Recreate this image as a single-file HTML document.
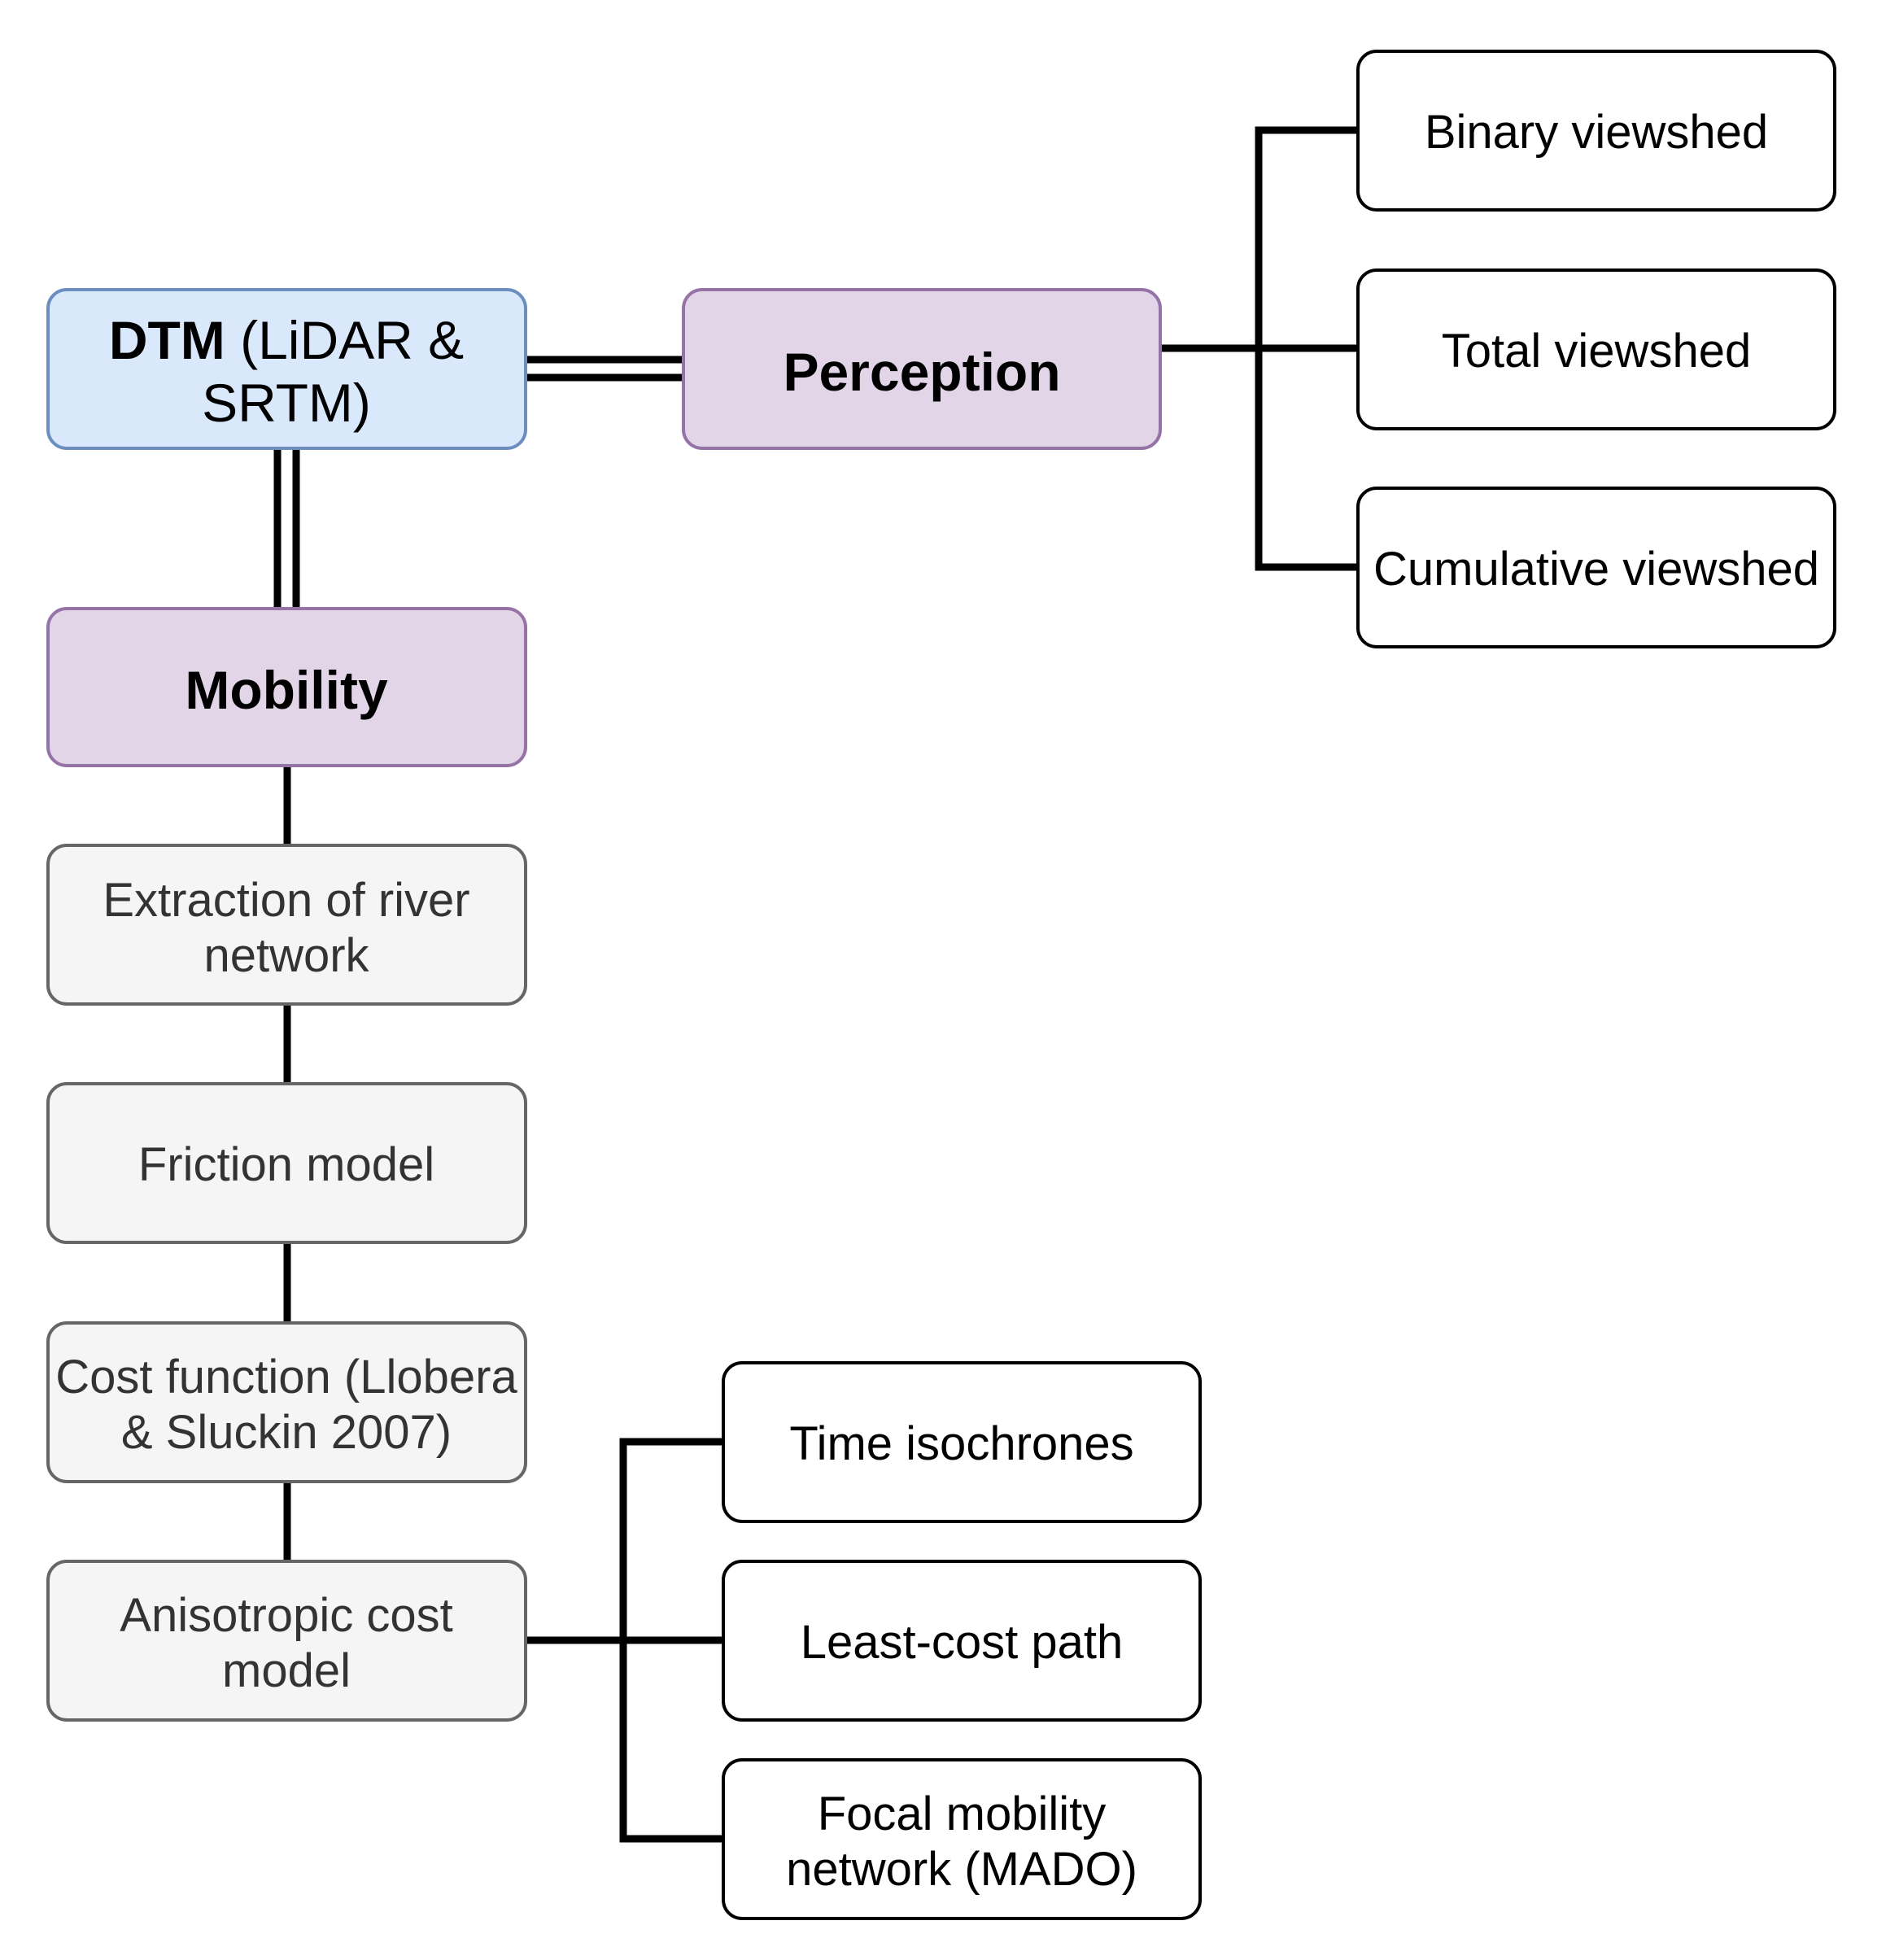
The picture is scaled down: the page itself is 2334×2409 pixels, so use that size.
<!DOCTYPE html>
<html><head><style>html,body{margin:0;padding:0;background:#fff}</style></head><body>
<svg width="2334" height="2404" xmlns="http://www.w3.org/2000/svg" font-family="Liberation Sans, Arial, sans-serif">
<g stroke="#000" stroke-width="9" fill="none">
<line x1="646" y1="442" x2="840" y2="442"/><line x1="646" y1="464" x2="840" y2="464"/>
<line x1="341" y1="551" x2="341" y2="748"/><line x1="364" y1="551" x2="364" y2="748"/>
<line x1="353" y1="941" x2="353" y2="1039"/><line x1="353" y1="1234" x2="353" y2="1332"/>
<line x1="353" y1="1527" x2="353" y2="1626"/><line x1="353" y1="1821" x2="353" y2="1919"/>
<line x1="1426" y1="428" x2="1669" y2="428"/>
<polyline points="1669,160 1547,160 1547,697 1669,697"/>
<line x1="646" y1="2016" x2="889" y2="2016"/>
<polyline points="889,1772 766,1772 766,2260 889,2260"/>
</g>
<g stroke-width="4">
<rect x="59" y="356" width="587" height="195" rx="23" fill="#dae8fc" stroke="#6c8ebf"/>
<rect x="840" y="356" width="586" height="195" rx="23" fill="#e1d5e7" stroke="#9673a6"/>
<rect x="59" y="748" width="587" height="193" rx="23" fill="#e1d5e7" stroke="#9673a6"/>
<rect x="59" y="1039" width="587" height="195" rx="23" fill="#f5f5f5" stroke="#666"/>
<rect x="59" y="1332" width="587" height="195" rx="23" fill="#f5f5f5" stroke="#666"/>
<rect x="59" y="1626" width="587" height="195" rx="23" fill="#f5f5f5" stroke="#666"/>
<rect x="59" y="1919" width="587" height="195" rx="23" fill="#f5f5f5" stroke="#666"/>
<rect x="889" y="1675" width="586" height="195" rx="23" fill="#fff" stroke="#000"/>
<rect x="889" y="1919" width="586" height="195" rx="23" fill="#fff" stroke="#000"/>
<rect x="889" y="2163" width="586" height="195" rx="23" fill="#fff" stroke="#000"/>
<rect x="1669" y="63" width="586" height="195" rx="23" fill="#fff" stroke="#000"/>
<rect x="1669" y="332" width="586" height="195" rx="23" fill="#fff" stroke="#000"/>
<rect x="1669" y="600" width="586" height="195" rx="23" fill="#fff" stroke="#000"/>
</g>
<g text-anchor="middle" font-size="66">
<text x="352" y="441"><tspan font-weight="bold">DTM</tspan> (LiDAR &amp;</text>
<text x="352" y="518">SRTM)</text>
<text x="1133" y="480" font-weight="bold">Perception</text>
<text x="352" y="871" font-weight="bold">Mobility</text>
</g>
<g text-anchor="middle" font-size="58" fill="#333">
<text x="352" y="1126">Extraction of river</text>
<text x="352" y="1194">network</text>
<text x="352" y="1451">Friction model</text>
<text x="352" y="1712">Cost function (Llobera</text>
<text x="352" y="1780">&amp; Sluckin 2007)</text>
<text x="352" y="2005">Anisotropic cost</text>
<text x="352" y="2073">model</text>
</g>
<g text-anchor="middle" font-size="58" fill="#000">
<text x="1182" y="1794">Time isochrones</text>
<text x="1182" y="2038">Least-cost path</text>
<text x="1182" y="2249">Focal mobility</text>
<text x="1182" y="2317">network (MADO)</text>
<text x="1962" y="182">Binary viewshed</text>
<text x="1962" y="451">Total viewshed</text>
<text x="1962" y="719">Cumulative viewshed</text>
</g>
</svg>
</body></html>
